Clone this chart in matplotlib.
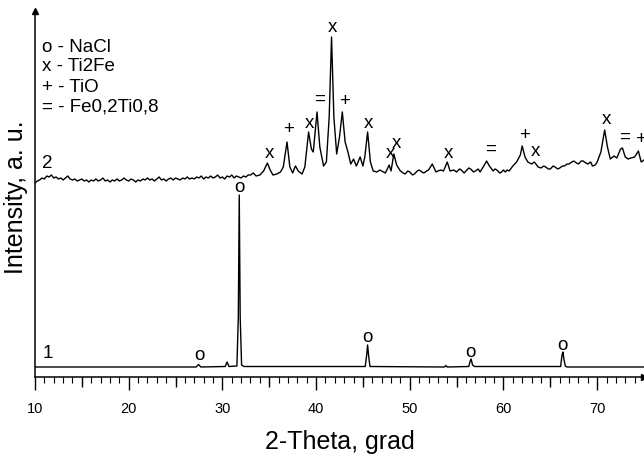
import numpy as np
import matplotlib
matplotlib.use("Agg")
import matplotlib.pyplot as plt
from matplotlib.ticker import MultipleLocator

plt.rcParams['font.family'] = ['Liberation Sans', 'DejaVu Sans']

# === Data (2-theta in grad, intensity in a.u.) ===
# pattern 1 (NaCl reference)
theta_1 = [10.0, 27.2, 27.45, 27.7, 30.3, 30.5, 30.7, 31.55, 31.7, 31.8, 31.9,
           32.05, 32.3, 45.25, 45.4, 45.5, 45.6, 45.75, 53.7, 53.85, 54.0,
           56.3, 56.45, 56.55, 56.7, 56.9, 66.1, 66.25, 66.35, 66.45, 66.6,
           66.8, 75.0]
inten_1 = [10, 10, 12.5, 10, 10.5, 15, 10.5, 11, 60, 182, 60,
           12, 10.5, 10.5, 22, 32, 22, 10.5, 10, 11.5, 10,
           10.5, 16, 18, 12, 10.5, 10.5, 22, 25, 18, 11,
           10, 10]

# pattern 2 (after treatment)
theta_2 = [10.0, 10.25, 10.5, 10.75, 11.0, 11.25, 11.5, 11.75, 12.0, 12.25,
           12.5, 12.75, 13.0, 13.25, 13.5, 13.75, 14.0, 14.25, 14.5, 14.75,
           15.0, 15.25, 15.5, 15.75, 16.0, 16.25, 16.5, 16.75, 17.0, 17.25,
           17.5, 17.75, 18.0, 18.25, 18.5, 18.75, 19.0, 19.25, 19.5, 19.75,
           20.0, 20.25, 20.5, 20.75, 21.0, 21.25, 21.5, 21.75, 22.0, 22.25,
           22.5, 22.75, 23.0, 23.25, 23.5, 23.75, 24.0, 24.25, 24.5, 24.75,
           25.0, 25.25, 25.5, 25.75, 26.0, 26.25, 26.5, 26.75, 27.0, 27.25,
           27.5, 27.75, 28.0, 28.25, 28.5, 28.75, 29.0, 29.25, 29.5, 29.75,
           30.0, 30.25, 30.5, 30.75, 31.0, 31.25, 31.5, 31.75, 32.0, 32.25,
           32.5, 32.75,
           33.0, 33.3, 33.6, 34.0, 34.4, 34.8, 35.1, 35.4, 35.8,
           36.2, 36.5, 36.9, 37.2, 37.5, 37.8, 38.1, 38.5, 38.8, 39.2, 39.5,
           39.7, 40.1, 40.4, 40.8, 41.1, 41.4, 41.65, 41.9, 42.2, 42.5, 42.8,
           43.1, 43.4, 43.7, 44.0, 44.3, 44.7, 45.0, 45.2, 45.5, 45.8, 46.1,
           46.5, 46.8, 47.0, 47.4, 47.8, 48.0, 48.3, 48.6, 49.0, 49.3, 49.5,
           49.8, 50.0, 50.3, 50.5, 50.8, 51.0, 51.3, 51.5, 51.8, 52.0, 52.4,
           52.8, 53.0, 53.3, 53.6, 54.0, 54.3, 54.7, 55.0, 55.3, 55.5, 55.8,
           56.0, 56.3, 56.5, 56.8, 57.0, 57.3, 57.5, 57.9, 58.2, 58.5, 58.9,
           59.1, 59.3, 59.6, 59.8, 60.0, 60.2, 60.4, 60.6, 61.0, 61.4, 61.8,
           62.0, 62.3, 62.6, 63.0, 63.3, 63.7, 64.0, 64.3, 64.5, 64.8, 65.0,
           65.3, 65.5, 65.8, 66.0, 66.3, 66.5, 66.8, 67.0, 67.3, 67.5, 67.8,
           68.0, 68.3, 68.5, 68.8, 69.0, 69.3, 69.5, 69.8, 70.0, 70.4, 70.8,
           71.1, 71.4, 71.8, 72.1, 72.5, 72.7, 73.0, 73.3, 73.6, 74.0, 74.4,
           74.7, 75.0]
inten_2 = [194, 196, 197, 199, 198, 201, 200, 202, 199, 200,
           198, 199, 197, 199, 201, 198, 197, 198, 196, 197,
           198, 196, 197, 195, 197, 196, 198, 196, 197, 199,
           196, 197, 195, 197, 196, 198, 196, 197, 199, 197,
           196, 198, 197, 195, 197, 196, 198, 197, 199, 197,
           198, 196, 198, 200, 197, 198, 196, 198, 199, 197,
           199, 198, 197, 199, 198, 200, 198, 199, 198, 200,
           199, 201, 198, 200, 199, 201, 199, 200, 202, 199,
           200, 198, 201, 200, 202, 199, 201, 200, 199, 201,
           200, 202,
           202, 204, 201, 202, 206, 214, 207, 202, 203,
           205, 210, 235, 210, 204, 211, 206, 203, 210, 245, 228,
           225, 265, 230, 211, 215, 260, 340, 260, 223, 240, 265,
           235, 225, 213, 218, 211, 220, 211, 220, 245, 215, 206,
           205, 207, 206, 204, 212, 206, 223, 212, 206, 204, 203,
           206, 205, 202, 203, 206, 207, 205, 204, 206, 207, 213,
           205, 206, 207, 206, 215, 206, 207, 205, 208, 207, 204,
           206, 209, 208, 205, 206, 208, 205, 211, 216, 211, 206,
           208, 207, 204, 205, 207, 205, 207, 206, 211, 215, 222,
           231, 220, 215, 213, 215, 210, 209, 211, 210, 208, 208,
           211, 210, 208, 209, 211, 211, 213, 213, 215, 216, 214,
           213, 216, 216, 214, 213, 215, 211, 212, 215, 225, 247,
           230, 218, 221, 219, 228, 229, 220, 218, 219, 220, 226,
           215, 217]

# phase marks: (symbol, 2-theta, intensity)
marks_sym = ['o', 'o', 'o', 'o', 'o',
             'x', '+', 'x', '=', 'x', '+', 'x', 'x', 'x',
             'x', '=', '+', 'x', 'x', '=', '+']
marks_x = [27.5, 31.8, 45.5, 56.5, 66.3,
           35.0, 37.1, 39.3, 40.4, 41.7, 43.0, 45.6, 47.9, 48.6,
           54.1, 58.6, 62.3, 63.4, 71.0, 72.9, 74.6]
marks_y = [22, 191, 40, 25, 33,
           224, 248, 255, 279, 350, 277, 255, 225, 235,
           224, 229, 243, 227, 259, 241, 238]

legend_lines = ['o - NaCl', 'x - Ti2Fe', '+ - TiO', '= - Fe0,2Ti0,8']

# === Plot ===
fig = plt.figure(figsize=(6.44, 4.56), dpi=100)
ax = fig.add_axes([35 / 644, 78 / 456, 609 / 644, 366 / 456])

ax.plot(theta_1, inten_1, color='black', lw=1.0)
ax.plot(theta_2, inten_2, color='black', lw=1.0)

for s, x, y in zip(marks_sym, marks_x, marks_y):
    ax.text(x, y, s, ha='center', va='center', fontsize=13.5, clip_on=False)

for i, t in enumerate(legend_lines):
    ax.text(7 / 609, (378 - 47 - 20 * i) / 366, t, transform=ax.transAxes,
            ha='left', va='center', fontsize=13.5)

ax.text(11.3, 215, '2', ha='center', va='center', fontsize=13.5)
ax.text(11.4, 24, '1', ha='center', va='center', fontsize=13.5)

ax.set_xlim(10, 75)
ax.set_ylim(0, 366)

# axes style: only bottom and left, with arrows
ax.spines['top'].set_visible(False)
ax.spines['right'].set_visible(False)
ax.spines['left'].set_linewidth(1.1)
ax.spines['bottom'].set_linewidth(1.1)
ax.plot(0, 1, marker='^', color='black', markersize=4,
        transform=ax.transAxes, clip_on=False)
ax.plot(1, 0, marker='>', color='black', markersize=4,
        transform=ax.transAxes, clip_on=False)

ax.set_yticks([])
ax.xaxis.set_major_locator(MultipleLocator(10))
ax.xaxis.set_minor_locator(MultipleLocator(1))
ax.tick_params(axis='x', which='major', length=9.5, width=1.0,
               labelsize=10.5, pad=8)
ax.tick_params(axis='x', which='minor', length=4, width=0.8)
# medium ticks at the 5's
mids = np.arange(15, 75, 10)
ax.vlines(mids, -10 / 366, 0, transform=ax.get_xaxis_transform(),
          color='black', lw=1.0, clip_on=False)

ax.set_xticks(np.arange(10, 71, 10))
ax.set_xlabel('2-Theta, grad', fontsize=18, labelpad=10)
ax.set_ylabel('Intensity, a. u.', fontsize=18)
ax.yaxis.set_label_coords(-7 / 609, (378 - 197) / 366)

fig.savefig('out.png', dpi=100)
